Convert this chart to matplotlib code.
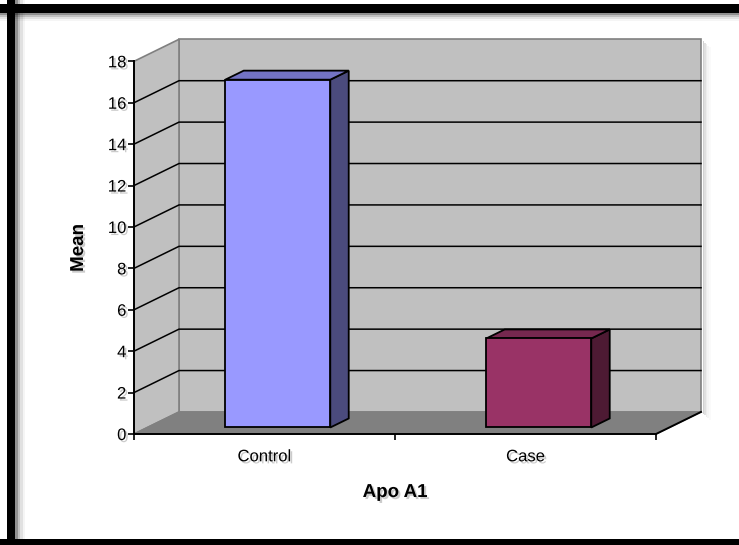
import matplotlib.pyplot as plt
import matplotlib.patches as mpatches
import matplotlib.patheffects as pe

# data
categories = ['Control', 'Case']
means = [16.8, 4.3]
front_colors = ['#9999FF', '#993366']
top_colors = ['#7373C4', '#76284F']
side_colors = ['#4B4B7D', '#4D1A33']
yticks = list(range(0, 20, 2))

plt.rcParams['font.family'] = ['Liberation Sans', 'DejaVu Sans']

W, H, DPI = 739, 545, 100
fig = plt.figure(figsize=(W / DPI, H / DPI), dpi=DPI)
fig.patch.set_facecolor('white')

# outer frame (black with a soft inner shadow)
for k, a in enumerate([0.25, 0.15, 0.08, 0.04]):
    fig.patches.append(mpatches.Rectangle((0, (H - 13 - 2 * (k + 1)) / H), 1, 2 * (k + 1) / H,
                                          transform=fig.transFigure, color='black', alpha=a, lw=0))
    fig.patches.append(mpatches.Rectangle(((15) / W, 0), 2.5 * (k + 1) / W, 1,
                                          transform=fig.transFigure, color='black', alpha=a, lw=0))
fig.patches.append(mpatches.Rectangle((0, (H - 13) / H), 1, 9 / H, transform=fig.transFigure,
                                      color='black', lw=0))
fig.patches.append(mpatches.Rectangle((7 / W, 0), 8 / W, 1, transform=fig.transFigure,
                                      color='black', lw=0))
fig.patches.append(mpatches.Rectangle((0, 0), 1, 6 / H, transform=fig.transFigure,
                                      color='black', lw=0))

# plot area geometry (pixels)
x_left, x_right, y_bot, y_top = 134, 701, 434, 39.3
ax = fig.add_axes([x_left / W, (H - y_bot) / H, (x_right - x_left) / W, (y_bot - y_top) / H])
ax.patch.set_alpha(0)

n = len(categories)
ymax = yticks[-1]
px_x = (656 - x_left) / n          # pixels per category
px_y = (y_bot - 62) / ymax         # pixels per value unit
DX = 45 / px_x
DY = 22 / px_y
ax.set_xlim(0, n + DX)
ax.set_ylim(0, ymax + DY)


def proj(x, y, d):
    return (x + d * DX, y + d * DY)


def poly(pts, fc, ec, lw=1.0, z=1):
    p = mpatches.Polygon(pts, closed=True, facecolor=fc, edgecolor=ec, lw=lw, zorder=z,
                         clip_on=False, joinstyle='miter')
    ax.add_patch(p)


# wall shadow
for k, a in enumerate([0.18, 0.12, 0.07, 0.04, 0.02]):
    off = (k + 1) * 1.6
    poly([proj(n + off / px_x, ymax - off / px_y, 1), proj(n + (off + 1.6) / px_x, ymax - off / px_y, 1),
          proj(n + (off + 1.6) / px_x, -off / px_y, 1), proj(n + off / px_x, -off / px_y, 1)],
         (0, 0, 0, a), 'none', lw=0, z=0.5)

# walls and floor
poly([proj(0, 0, 1), proj(n, 0, 1), proj(n, ymax, 1), proj(0, ymax, 1)], '#C0C0C0', '#808080', 1.2)
poly([(0, 0), proj(0, 0, 1), proj(0, ymax, 1), (0, ymax)], '#C0C0C0', '#808080', 1.2)
poly([(0, 0), (n, 0), proj(n, 0, 1), proj(0, 0, 1)], '#808080', '#808080', 1.0)

# gridlines
for v in yticks[1:-1]:
    xs, ys = zip((0, v), proj(0, v, 1), proj(n, v, 1))
    ax.plot(xs, ys, color='black', lw=1.1, zorder=2, clip_on=False)
ax.plot(*zip((n, 0), proj(n, 0, 1)), color='black', lw=1.4, zorder=2, clip_on=False)

# bars
bw = 105 / px_x
d0, d1 = 0.295, 0.705
for i, val in enumerate(means):
    x0 = i + 0.5 - bw / 2
    x1 = x0 + bw
    poly([proj(x1, 0, d0), proj(x1, 0, d1), proj(x1, val, d1), proj(x1, val, d0)],
         side_colors[i], 'black', 1.3, 3)
    poly([proj(x0, val, d0), proj(x1, val, d0), proj(x1, val, d1), proj(x0, val, d1)],
         top_colors[i], 'black', 1.3, 3)
    poly([proj(x0, 0, d0), proj(x1, 0, d0), proj(x1, val, d0), proj(x0, val, d0)],
         front_colors[i], 'black', 1.3, 4)

# axes
for s in ['top', 'right']:
    ax.spines[s].set_visible(False)
ax.spines['left'].set_bounds(0, ymax)
ax.spines['bottom'].set_bounds(0, n)
for s in ['left', 'bottom']:
    ax.spines[s].set_linewidth(1.4)
    ax.spines[s].set_zorder(5)

shadow = [pe.SimplePatchShadow(offset=(1.5, -1.5), shadow_rgbFace='#999999', alpha=0.5), pe.Normal()]

ax.set_yticks(yticks)
ax.set_yticklabels([str(t) for t in yticks], fontsize=12, path_effects=shadow)
ax.tick_params(axis='y', direction='out', length=4, width=1.2, pad=1.5)
ax.set_xticks(range(n + 1))
ax.set_xticklabels([''] * (n + 1))
ax.tick_params(axis='x', which='major', direction='out', length=4, width=1.2)
ax.set_xticks([i + 0.5 for i in range(n)], minor=True)
ax.set_xticklabels(categories, minor=True, fontsize=12, path_effects=shadow)
ax.tick_params(axis='x', which='minor', length=0, pad=11)

ax.set_xlabel('Apo A1', fontsize=13.5, fontweight='bold', path_effects=shadow)
ax.xaxis.set_label_coords(1 / (n + DX) * n / 2, -(484 - y_bot) / (y_bot - y_top), transform=ax.transAxes)
ax.set_ylabel('Mean', fontsize=13.5, fontweight='bold', path_effects=shadow)
ax.yaxis.set_label_coords(-(x_left - 87) / (x_right - x_left), (y_bot - 248) / (y_bot - y_top),
                          transform=ax.transAxes)

fig.savefig('out.png', dpi=DPI)
